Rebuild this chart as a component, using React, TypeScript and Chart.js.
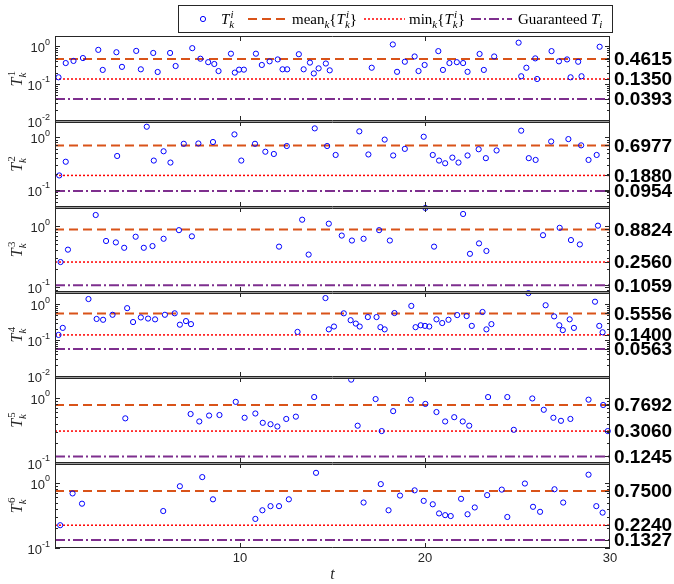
import React, { useEffect, useRef } from 'react';
import { Chart, registerables } from 'chart.js';

Chart.register(...registerables);

// ---------------- data ----------------
const t1 = [0.19, 0.58, 1.0, 1.51, 2.34, 2.58, 3.32, 3.62, 4.39, 4.64, 5.31, 5.55, 6.22, 6.52, 7.42, 7.86, 8.28, 8.61, 8.84, 9.51, 9.72, 9.95, 10.21, 10.86, 11.18, 11.6, 12.04, 12.3, 12.55, 13.18, 13.44, 13.78, 13.99, 14.25, 14.64, 14.85, 17.12, 18.26, 18.49, 18.91, 19.44, 19.65, 19.98, 20.72, 20.97, 21.32, 21.72, 22.06, 22.3, 22.95, 23.18, 23.74, 25.06, 25.2, 25.48, 25.96, 26.06, 26.84, 27.24, 27.68, 27.87, 28.28, 28.46, 29.44];
const T1 = [0.15, 0.36, 0.41, 0.49, 0.81, 0.236, 0.7, 0.285, 0.76, 0.245, 0.67, 0.208, 0.67, 0.3, 0.9, 0.47, 0.38, 0.34, 0.22, 0.64, 0.2, 0.24, 0.24, 0.64, 0.32, 0.4, 0.45, 0.245, 0.245, 0.62, 0.245, 0.37, 0.19, 0.26, 0.35, 0.23, 0.27, 1.13, 0.21, 0.39, 0.54, 0.22, 0.32, 0.75, 0.236, 0.36, 0.38, 0.36, 0.21, 0.63, 0.236, 0.54, 1.26, 0.16, 0.27, 0.48, 0.135, 0.75, 0.4, 0.45, 0.15, 0.39, 0.16, 0.98];

const t2 = [0.23, 0.58, 3.36, 4.96, 5.34, 5.87, 6.24, 6.96, 7.75, 8.54, 9.7, 10.07, 10.81, 11.37, 11.83, 12.53, 14.04, 14.71, 15.17, 16.45, 16.94, 17.82, 18.28, 18.91, 19.93, 20.42, 20.76, 21.09, 21.48, 21.81, 22.3, 22.9, 23.29, 23.87, 25.2, 25.61, 25.98, 26.82, 27.75, 28.44, 28.84, 29.28];
const T2 = [0.188, 0.342, 0.44, 1.58, 0.36, 0.54, 0.33, 0.75, 0.76, 0.81, 1.13, 0.36, 0.75, 0.53, 0.48, 0.68, 1.47, 0.68, 0.46, 1.29, 0.47, 0.9, 0.45, 0.6, 1.02, 0.46, 0.36, 0.32, 0.41, 0.33, 0.45, 0.59, 0.4, 0.56, 1.33, 0.4, 0.37, 0.83, 0.92, 0.7, 0.37, 0.46];

const t3 = [0.3, 0.7, 2.2, 2.76, 3.29, 3.74, 4.36, 4.8, 5.27, 5.87, 6.7, 7.4, 12.11, 13.36, 13.71, 14.8, 15.5, 16.05, 16.68, 17.52, 18.1, 20.02, 20.49, 22.06, 22.43, 22.92, 23.32, 26.38, 27.28, 27.89, 28.37, 29.35];
const T3 = [0.256, 0.41, 1.53, 0.57, 0.54, 0.44, 0.67, 0.44, 0.47, 0.62, 0.86, 0.68, 0.46, 1.28, 0.34, 1.1, 0.7, 0.58, 0.62, 0.86, 0.58, 2.0, 0.46, 1.59, 0.35, 0.52, 0.39, 0.71, 0.94, 0.59, 0.5, 1.02];

const t4 = [0.19, 0.42, 1.81, 2.25, 2.6, 3.11, 3.9, 4.22, 4.64, 5.03, 5.41, 5.94, 6.47, 6.75, 7.08, 7.35, 13.11, 14.62, 14.8, 15.08, 15.61, 15.98, 16.26, 16.47, 16.91, 17.38, 17.59, 17.82, 18.35, 19.26, 19.49, 19.77, 20.0, 20.23, 20.62, 20.93, 21.27, 21.74, 22.25, 22.53, 23.11, 23.32, 23.59, 25.59, 26.52, 26.98, 27.26, 27.45, 27.82, 28.05, 29.19, 29.42, 29.6];
const T4 = [0.14, 0.22, 1.4, 0.39, 0.37, 0.51, 0.78, 0.32, 0.43, 0.4, 0.38, 0.51, 0.56, 0.27, 0.34, 0.28, 0.17, 1.49, 0.2, 0.24, 0.56, 0.36, 0.29, 0.24, 0.44, 0.44, 0.23, 0.2, 0.57, 0.9, 0.23, 0.26, 0.25, 0.24, 0.38, 0.3, 0.37, 0.5, 0.47, 0.25, 0.61, 0.2, 0.28, 2.04, 0.94, 0.46, 0.26, 0.19, 0.38, 0.22, 1.18, 0.25, 0.166];

const t5 = [3.8, 7.33, 7.8, 8.33, 8.89, 9.77, 10.25, 10.83, 11.23, 11.65, 12.02, 12.5, 13.02, 14.01, 16.01, 16.36, 17.33, 17.66, 18.28, 19.23, 20.02, 20.62, 21.09, 21.58, 22.04, 22.39, 23.41, 24.45, 24.8, 25.8, 26.42, 26.94, 27.35, 27.86, 28.84, 29.63, 29.88];
const T5 = [0.48, 0.56, 0.43, 0.53, 0.54, 0.86, 0.49, 0.57, 0.41, 0.39, 0.36, 0.47, 0.51, 1.02, 1.89, 0.37, 0.95, 0.306, 0.62, 0.93, 0.8, 0.6, 0.43, 0.5, 0.43, 0.37, 1.02, 1.02, 0.32, 0.97, 0.65, 0.49, 0.44, 0.47, 0.93, 0.77, 0.306];

const t6 = [0.28, 0.95, 1.46, 5.85, 6.75, 7.96, 8.54, 10.83, 11.21, 11.65, 12.11, 12.64, 14.11, 16.68, 17.61, 18.03, 18.65, 19.44, 19.93, 20.42, 20.76, 21.09, 21.39, 21.95, 22.3, 22.69, 23.36, 24.15, 24.45, 25.4, 25.84, 26.22, 27.0, 27.47, 28.84, 29.26, 29.6];
const T6 = [0.224, 0.69, 0.48, 0.37, 0.89, 1.23, 0.56, 0.28, 0.38, 0.44, 0.44, 0.56, 1.43, 0.5, 0.96, 0.38, 0.64, 0.77, 0.53, 0.47, 0.34, 0.32, 0.31, 0.57, 0.33, 0.42, 0.65, 0.79, 0.3, 0.98, 0.43, 0.36, 0.8, 0.5, 1.34, 0.44, 0.35];

const panelTimes = [t1, t2, t3, t4, t5, t6];
const panelValues = [T1, T2, T3, T4, T5, T6];
const panelIndex = ['1', '2', '3', '4', '5', '6'];

const meanT = [0.4615, 0.6977, 0.8824, 0.5556, 0.7692, 0.75];
const minT = [0.135, 0.188, 0.256, 0.14, 0.306, 0.224];
const guaranteedT = [0.0393, 0.0954, 0.1059, 0.0563, 0.1245, 0.1327];

const yLow = [0.01, 0.048, 0.082, 0.0092, 0.1, 0.1];
const yHigh = [1.9, 2.0, 2.1, 2.2, 2.05, 2.05];
const xLimits = [0, 30];
const xTickValues = [10, 20, 30];

const legendLabels = ['T_k^i', 'mean_k{T_k^i}', 'min_k{T_k^i}', 'Guaranteed T_i'];

// ---------------- styles ----------------
const BLUE = '#0000ff';
const ORANGE = '#D95319';
const RED = '#ff0000';
const PURPLE = '#7E2F8E';
const AXIS = '#262626';
const MEAN_DASH = [9, 5];
const MIN_DASH = [2, 2];
const GUAR_DASH = [10, 3, 2, 3];
const SANS = '"Liberation Sans", Arial, sans-serif';
const SERIF = '"Liberation Serif", "DejaVu Serif", serif';
const MARKER_R = 2.6;

type MSeg = { s: string; it?: boolean; sub?: string; sup?: string };

function mfont(size: number, it: boolean) {
  return `${it ? 'italic ' : ''}${size}px ${SERIF}`;
}

function drawMath(ctx: CanvasRenderingContext2D, segs: MSeg[], x0: number, y: number, size: number, dry = false) {
  let x = x0;
  ctx.textAlign = 'left';
  ctx.textBaseline = 'alphabetic';
  for (const g of segs) {
    ctx.font = mfont(size, !!g.it);
    if (!dry) ctx.fillText(g.s, x, y);
    x += ctx.measureText(g.s).width;
    const small = Math.round(size * 0.7);
    let w = 0;
    if (g.sub) {
      ctx.font = mfont(small, !/^\d+$/.test(g.sub));
      if (!dry) ctx.fillText(g.sub, x, y + size * 0.28);
      w = ctx.measureText(g.sub).width;
    }
    if (g.sup) {
      ctx.font = mfont(small, !/^\d+$/.test(g.sup));
      const sx = x + (g.it ? size * 0.08 : 0);
      if (!dry) ctx.fillText(g.sup, sx, y - size * 0.42);
      w = Math.max(w, sx - x + ctx.measureText(g.sup).width);
    }
    x += w;
  }
  return x - x0;
}

function seg(ctx: CanvasRenderingContext2D, x1: number, y1: number, x2: number, y2: number) {
  ctx.beginPath();
  ctx.moveTo(x1, y1);
  ctx.lineTo(x2, y2);
  ctx.stroke();
}

const decorPlugin = {
  id: 'panelDecor',
  afterDatasetsDraw(chart: any) {
    const ctx = chart.ctx as CanvasRenderingContext2D;
    const xs = chart.scales.x;
    const L = Math.round(xs.left);
    const R = Math.round(xs.right);
    ctx.save();
    for (let i = 0; i < panelTimes.length; i++) {
      const ys = chart.scales['y' + i];
      const top = Math.round(ys.top);
      const bot = Math.round(ys.bottom);
      ctx.setLineDash([]);
      ctx.strokeStyle = AXIS;
      ctx.lineWidth = 1;
      // log ticks (inward) on left and right borders
      const e0 = Math.floor(Math.log10(ys.min));
      const e1 = Math.ceil(Math.log10(ys.max));
      for (let e = e0; e <= e1; e++) {
        for (let m = 1; m <= 9; m++) {
          const v = m * Math.pow(10, e);
          if (v < ys.min * 0.9999 || v > ys.max * 1.0001) continue;
          const y = Math.round(ys.getPixelForValue(v)) + 0.5;
          const len = m === 1 ? 5 : 3;
          seg(ctx, L, y, L + len, y);
          seg(ctx, R, y, R - len, y);
        }
      }
      for (const v of [meanT[i], minT[i], guaranteedT[i]]) {
        const y = Math.round(ys.getPixelForValue(v)) + 0.5;
        seg(ctx, R, y, R - 5, y);
      }
      // x ticks at top and bottom
      for (const xv of xTickValues) {
        if (xv >= xLimits[1]) continue;
        const x = Math.round(xs.getPixelForValue(xv)) + 0.5;
        seg(ctx, x, top, x, top + 5);
        seg(ctx, x, bot, x, bot - 5);
      }
      // box
      if (i > 0) {
        ctx.fillStyle = '#9a9a9a';
        ctx.fillRect(L, top, R - L, 1);
      }
      const ty = i === 0 ? top + 0.5 : top + 1.5;
      seg(ctx, L, ty, R, ty);
      seg(ctx, L, bot - 0.5, R, bot - 0.5);
      seg(ctx, L + 0.5, top, L + 0.5, bot);
      seg(ctx, R - 0.5, top, R - 0.5, bot);

      // left decade labels
      ctx.fillStyle = AXIS;
      ctx.textAlign = 'left';
      ctx.textBaseline = 'alphabetic';
      for (let e = e0; e <= e1; e++) {
        const v = Math.pow(10, e);
        if (v < ys.min * 0.9999 || v > ys.max * 1.0001) continue;
        const y = ys.getPixelForValue(v);
        const ex = String(e);
        ctx.font = `9px ${SANS}`;
        const ew = ctx.measureText(ex).width;
        ctx.font = `13px ${SANS}`;
        const bw = ctx.measureText('10').width;
        const xr = L - 5;
        ctx.fillText('10', xr - ew - bw, y + 6);
        ctx.font = `9px ${SANS}`;
        ctx.fillText(ex, xr - ew, y - 1.5);
      }

      // right value labels
      ctx.fillStyle = '#000';
      ctx.font = `bold 19px ${SANS}`;
      ctx.textBaseline = 'middle';
      for (const v of [meanT[i], minT[i], guaranteedT[i]]) {
        ctx.fillText(v.toFixed(4), R + 4, ys.getPixelForValue(v) + 1);
      }

      // y title T_k^i
      const cy = (ys.top + ys.bottom) / 2;
      ctx.save();
      ctx.translate(17, cy);
      ctx.rotate(-Math.PI / 2);
      ctx.fillStyle = AXIS;
      const tseg: MSeg[] = [{ s: 'T', it: true, sub: 'k', sup: panelIndex[i] }];
      const w = drawMath(ctx, tseg, 0, 0, 16, true);
      drawMath(ctx, tseg, -w / 2, 5, 16);
      ctx.restore();
    }

    // legend
    const lx = 178, ly = 5, lw = 434, lh = 27;
    ctx.fillStyle = '#fff';
    ctx.fillRect(lx, ly, lw, lh);
    ctx.strokeStyle = AXIS;
    ctx.lineWidth = 1;
    ctx.setLineDash([]);
    ctx.strokeRect(lx + 0.5, ly + 0.5, lw, lh);
    const cy = ly + lh / 2 + 0.5;
    const base = cy + 5;
    ctx.strokeStyle = BLUE;
    ctx.beginPath();
    ctx.arc(203, cy, MARKER_R, 0, Math.PI * 2);
    ctx.stroke();
    ctx.fillStyle = '#000';
    const sampleLine = (x1: number, x2: number, color: string, dash: number[], w: number) => {
      ctx.save();
      ctx.strokeStyle = color;
      ctx.lineWidth = w;
      ctx.setLineDash(dash);
      seg(ctx, x1, cy, x2, cy);
      ctx.restore();
    };
    const Tki: MSeg = { s: 'T', it: true, sub: 'k', sup: 'i' };
    drawMath(ctx, [Tki], 221, base, 15);
    sampleLine(248, 286, ORANGE, MEAN_DASH, 2);
    drawMath(ctx, [{ s: 'mean', sub: 'k' }, { s: '{' }, Tki, { s: '}' }], 292, base, 15);
    sampleLine(364, 405, RED, MIN_DASH, 1.5);
    drawMath(ctx, [{ s: 'min', sub: 'k' }, { s: '{' }, Tki, { s: '}' }], 409, base, 15);
    sampleLine(471, 512, PURPLE, GUAR_DASH, 2);
    drawMath(ctx, [{ s: 'Guaranteed ' }, { s: 'T', it: true, sub: 'i' }], 518, base, 15);
    ctx.restore();
  },
};

export default function App() {
  const ref = useRef<HTMLCanvasElement | null>(null);
  useEffect(() => {
    document.body.style.margin = '0';
    const datasets: any[] = [];
    const hline = (v: number) => [{ x: xLimits[0], y: v }, { x: xLimits[1], y: v }];
    for (let i = 0; i < panelTimes.length; i++) {
      const yAxisID = 'y' + i;
      datasets.push({
        label: legendLabels[0] + ' panel ' + panelIndex[i],
        data: panelTimes[i].map((x, j) => ({ x, y: panelValues[i][j] })),
        xAxisID: 'x',
        yAxisID,
        showLine: false,
        pointStyle: 'circle',
        pointRadius: MARKER_R,
        pointHoverRadius: MARKER_R,
        pointBorderWidth: 1,
        borderColor: BLUE,
        backgroundColor: 'rgba(0,0,0,0)',
        clip: false,
      });
      datasets.push({
        label: legendLabels[1],
        data: hline(meanT[i]),
        xAxisID: 'x',
        yAxisID,
        showLine: true,
        borderColor: ORANGE,
        borderWidth: 2,
        borderDash: MEAN_DASH,
        pointRadius: 0,
        fill: false,
      });
      datasets.push({
        label: legendLabels[2],
        data: hline(minT[i]),
        xAxisID: 'x',
        yAxisID,
        showLine: true,
        borderColor: RED,
        borderWidth: 1.5,
        borderDash: MIN_DASH,
        pointRadius: 0,
        fill: false,
      });
      datasets.push({
        label: legendLabels[3],
        data: hline(guaranteedT[i]),
        xAxisID: 'x',
        yAxisID,
        showLine: true,
        borderColor: PURPLE,
        borderWidth: 2,
        borderDash: GUAR_DASH,
        pointRadius: 0,
        fill: false,
      });
    }
    const scales: any = {
      x: {
        type: 'linear',
        position: 'bottom',
        min: xLimits[0],
        max: xLimits[1],
        grid: { display: false, drawTicks: false },
        border: { display: false },
        afterBuildTicks: (s: any) => {
          s.ticks = [xLimits[0], ...xTickValues].map((value) => ({ value }));
        },
        afterFit: (s: any) => {
          s.height = 36;
        },
        ticks: {
          autoSkip: false,
          maxRotation: 0,
          padding: 3,
          color: AXIS,
          font: { family: SANS, size: 13 },
          callback: (v: any) => (Number(v) === xLimits[0] ? '' : String(v)),
        },
        title: {
          display: true,
          text: 't',
          color: AXIS,
          font: { family: SERIF, size: 16, style: 'italic' },
          padding: { top: 0, bottom: 0 },
        },
      },
    };
    for (let i = 0; i < panelTimes.length; i++) {
      scales['y' + i] = {
        type: 'logarithmic',
        position: 'left',
        stack: 'panels',
        stackWeight: 1,
        weight: panelTimes.length - i,
        min: yLow[i],
        max: yHigh[i],
        display: false,
      };
    }
    const chart = new Chart(ref.current as HTMLCanvasElement, {
      type: 'scatter',
      data: { datasets },
      options: {
        animation: false,
        responsive: false,
        maintainAspectRatio: false,
        devicePixelRatio: 1,
        events: [],
        layout: { padding: { left: 55, right: 64, top: 36, bottom: 0 } },
        scales,
        plugins: { legend: { display: false }, tooltip: { enabled: false } },
      } as any,
      plugins: [decorPlugin],
    });
    return () => chart.destroy();
  }, []);
  return (
    <div style={{ position: 'relative', width: 674, height: 584 }}>
      <canvas ref={ref} width={674} height={584} style={{ display: 'block' }} />
    </div>
  );
}
